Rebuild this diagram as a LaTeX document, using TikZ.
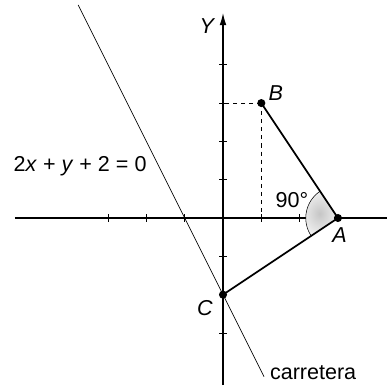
\documentclass[tikz,border=0pt]{standalone}
\usepackage{fontspec}
\setmainfont{Liberation Sans}
\usetikzlibrary{arrows.meta}
\begin{document}
\begin{tikzpicture}[x=1cm,y=1cm,
  axis/.style={line width=0.8pt},
  side/.style={line width=1.3pt},
  road/.style={line width=0.45pt},
  tick/.style={line width=0.6pt},
  dot/.style={circle,fill=black,inner sep=0pt,minimum size=6pt},
  lbl/.style={font=\fontsize{16}{18}\selectfont\itshape,inner sep=0pt},
  txt/.style={font=\fontsize{16}{18}\selectfont,inner sep=0pt}]
\useasboundingbox (-5.82,-4.36) rectangle (4.28,5.69);
% axes
\coordinate (xl) at (-5.43,0);
\coordinate (xr) at (4.28,0);
\coordinate (yb) at (0,-4.36);
\coordinate (yt) at (0,5.35);
\draw[axis] (xl) -- (xr);
\draw[axis,-{Latex[length=9pt,width=5pt]}] (yb) -- (yt);
\foreach \t in {-3,-2,-1,1,2} \draw[tick] (\t,-0.1) -- (\t,0.1);
\foreach \t in {-3,-1,1,2,3,4} \draw[tick] (-0.1,\t) -- (0.1,\t);
% points
\coordinate (A) at (3,0);
\coordinate (B) at (1,3);
\coordinate (C) at (0,-2);
\coordinate (Bx) at (1,0);
\coordinate (By) at (0,3);
% angle shading
\shade[inner color=gray!45,outer color=gray!12] (A) -- ++(123.69:0.84) arc[start angle=123.69,end angle=213.69,radius=0.84] -- cycle;
\draw[line width=0.4pt] (A) ++(123.69:0.84) arc[start angle=123.69,end angle=213.69,radius=0.84];
% road
\coordinate (r1) at (-3.78,5.56);
\coordinate (r2) at (1.07,-4.14);
\draw[road] (r1) -- (r2);
% dashed
\draw[dashed,line width=0.6pt] (B) -- (Bx);
\draw[dashed,line width=0.6pt] (B) -- (By);
% triangle
\draw[side] (B) -- (A) -- (C);
\node[dot] (nA) at (A) {};
\node[dot] (nB) at (B) {};
\node[dot] (nC) at (C) {};
% labels
\node[lbl] (lY) at (-0.42,5.01) {Y};
\node[lbl] (lB) at (1.38,3.27) {B};
\node[lbl] (lA) at (3.04,-0.45) {A};
\node[lbl] (lC) at (-0.47,-2.35) {C};
\node[txt] (ang) at (1.8,0.47) {90°};
\node[txt] (eq) at (-3.73,1.36) {2\textit{x} + \textit{y} + 2 = 0};
\node[txt,anchor=base west] (car) at (1.22,-4.22) {carretera};
\end{tikzpicture}
\end{document}
